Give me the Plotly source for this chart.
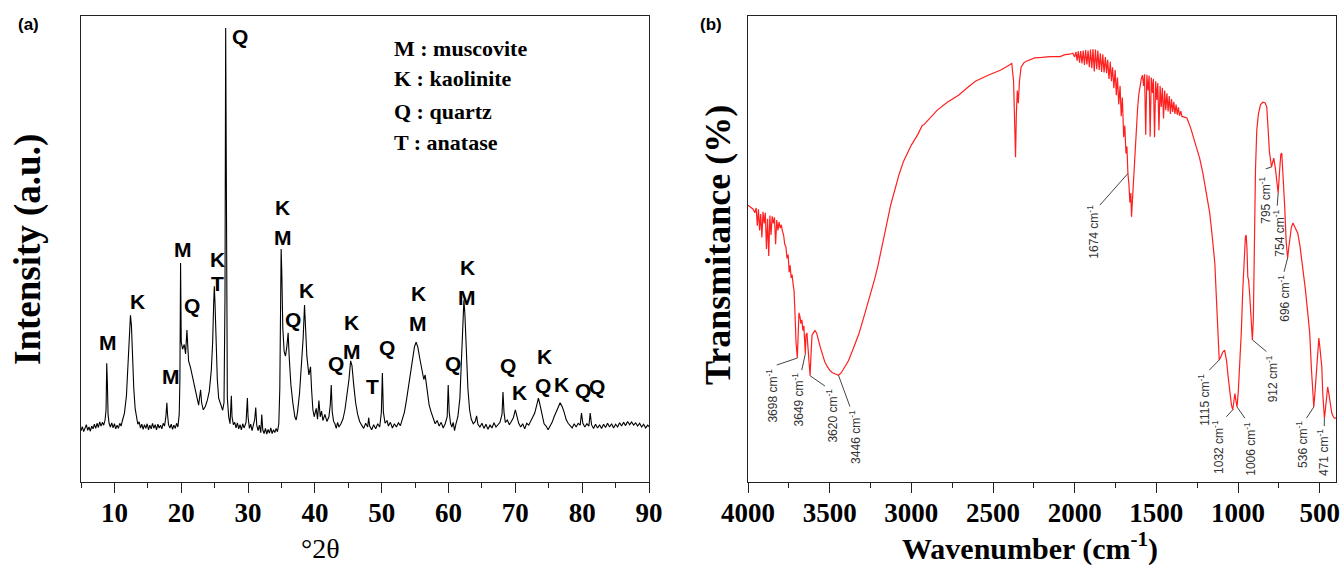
import plotly.graph_objects as go

# ---------------- (a) XRD pattern ----------------
# (2theta in degrees, intensity in arbitrary units)
xrd_scan = [
    (5.0, 11.0), (5.2, 11.9), (5.4, 10.8), (5.6, 11.6), (5.8, 12.3), (6.0, 11.1), (6.2, 11.8),
    (6.4, 10.9), (6.6, 12.0), (6.8, 11.4), (7.0, 12.4), (7.2, 11.5), (7.4, 12.6), (7.6, 11.7),
    (7.8, 12.9), (8.0, 12.0), (8.2, 12.8), (8.4, 12.2), (8.6, 13.3), (8.75, 15.5), (8.85, 25.5),
    (8.95, 21.0), (9.05, 14.5), (9.2, 12.6), (9.4, 11.8), (9.6, 12.7), (9.8, 11.6), (10.0, 12.5),
    (10.2, 11.4), (10.4, 12.2), (10.6, 11.5), (10.8, 12.6), (11.0, 12.0), (11.2, 13.2), (11.5, 14.8),
    (11.8, 18.5), (12.0, 24.0), (12.2, 31.0), (12.4, 35.8), (12.55, 33.5), (12.7, 27.0), (12.9, 20.0),
    (13.1, 15.8), (13.3, 13.6), (13.5, 12.4), (13.7, 12.9), (13.9, 11.6), (14.1, 12.4), (14.3, 11.3),
    (14.5, 12.3), (14.7, 11.5), (14.9, 12.5), (15.1, 11.2), (15.3, 12.2), (15.5, 11.4), (15.7, 12.6),
    (15.9, 11.5), (16.1, 12.3), (16.3, 11.2), (16.5, 12.4), (16.7, 11.6), (16.9, 12.2), (17.1, 11.4),
    (17.3, 12.6), (17.5, 12.0), (17.7, 14.0), (17.85, 17.0), (17.95, 14.5), (18.1, 12.3), (18.3, 11.6),
    (18.5, 12.4), (18.7, 11.3), (18.9, 12.2), (19.1, 11.5), (19.3, 12.6), (19.5, 11.8), (19.7, 14.5),
    (19.8, 22.0), (19.9, 47.0), (20.0, 30.0), (20.2, 28.5), (20.45, 29.5), (20.65, 27.5), (20.85, 32.6),
    (20.95, 29.0), (21.1, 26.0), (21.4, 24.5), (21.7, 22.5), (22.0, 20.0), (22.3, 18.5), (22.6, 16.5),
    (22.9, 19.8), (23.05, 17.0), (23.3, 15.5), (23.6, 16.2), (23.9, 17.5), (24.2, 19.5), (24.5, 24.0),
    (24.7, 30.0), (24.85, 38.0), (24.95, 42.0), (25.05, 38.5), (25.2, 30.0), (25.4, 22.0), (25.6, 18.0),
    (25.8, 17.2), (26.0, 16.0), (26.2, 15.4), (26.4, 17.0), (26.55, 40.0), (26.65, 97.4), (26.75, 45.0),
    (26.9, 18.0), (27.1, 14.0), (27.3, 12.5), (27.5, 18.5), (27.6, 14.0), (27.8, 12.3), (28.0, 12.8),
    (28.2, 11.6), (28.4, 12.7), (28.6, 11.4), (28.8, 12.3), (29.0, 11.2), (29.2, 12.5), (29.4, 11.6),
    (29.7, 12.8), (29.9, 18.0), (30.0, 14.0), (30.2, 11.5), (30.4, 12.4), (30.6, 11.0), (30.8, 12.0),
    (31.0, 13.5), (31.15, 16.0), (31.3, 12.2), (31.5, 11.0), (31.7, 12.2), (31.9, 10.6), (32.05, 14.5),
    (32.2, 11.2), (32.4, 10.4), (32.6, 11.5), (32.8, 10.3), (33.0, 11.3), (33.2, 10.5), (33.4, 11.6),
    (33.6, 10.4), (33.8, 11.2), (34.0, 10.6), (34.2, 11.5), (34.4, 10.8), (34.6, 12.5), (34.75, 20.0),
    (34.85, 35.0), (34.95, 50.0), (35.05, 45.0), (35.2, 33.0), (35.4, 28.0), (35.6, 27.0), (35.8, 29.0),
    (36.0, 32.0), (36.15, 27.0), (36.4, 21.0), (36.7, 17.0), (37.0, 14.0), (37.2, 13.3), (37.4, 15.0),
    (37.7, 19.0), (38.0, 25.0), (38.25, 31.0), (38.45, 38.0), (38.6, 33.0), (38.8, 27.0), (39.1, 23.0),
    (39.35, 24.7), (39.5, 20.0), (39.7, 15.5), (39.9, 14.0), (40.2, 15.8), (40.4, 13.5), (40.6, 17.5),
    (40.8, 14.0), (41.0, 15.2), (41.2, 13.2), (41.5, 14.5), (41.8, 13.0), (42.1, 14.0), (42.3, 16.5),
    (42.45, 20.8), (42.6, 15.0), (42.8, 13.0), (43.0, 12.5), (43.2, 11.5), (43.4, 12.8), (43.6, 11.8),
    (43.9, 12.5), (44.2, 13.5), (44.5, 15.5), (44.8, 18.5), (45.1, 22.0), (45.35, 26.0), (45.55, 25.0),
    (45.8, 21.0), (46.1, 17.0), (46.4, 14.5), (46.7, 13.0), (47.0, 12.2), (47.3, 11.5), (47.6, 12.6),
    (47.9, 11.8), (48.05, 13.8), (48.2, 12.0), (48.5, 11.2), (48.8, 12.3), (49.1, 11.4), (49.4, 12.5),
    (49.7, 11.8), (49.95, 15.0), (50.1, 23.4), (50.25, 15.0), (50.5, 12.6), (50.8, 13.2), (51.0, 12.0),
    (51.3, 12.8), (51.6, 11.6), (51.9, 12.5), (52.2, 11.8), (52.5, 12.7), (52.8, 12.1), (53.1, 13.5),
    (53.4, 15.0), (53.7, 17.5), (54.0, 20.5), (54.3, 24.0), (54.6, 27.0), (54.9, 29.0), (55.15, 30.0),
    (55.4, 29.0), (55.7, 26.5), (56.0, 24.5), (56.3, 22.0), (56.5, 23.0), (56.8, 19.0), (57.1, 16.5),
    (57.4, 15.0), (57.7, 13.5), (58.0, 12.5), (58.3, 13.2), (58.6, 12.0), (58.9, 12.8), (59.2, 11.6),
    (59.5, 12.5), (59.8, 14.0), (59.95, 20.8), (60.1, 15.0), (60.3, 12.6), (60.5, 11.8), (60.7, 12.8),
    (60.9, 11.0), (61.1, 12.4), (61.4, 14.0), (61.7, 18.0), (61.95, 27.0), (62.15, 35.0), (62.3, 39.0),
    (62.45, 36.0), (62.65, 28.0), (62.9, 20.0), (63.15, 15.5), (63.4, 13.5), (63.7, 12.5), (64.0, 13.0),
    (64.2, 14.2), (64.4, 12.4), (64.7, 11.8), (65.0, 12.6), (65.3, 11.5), (65.6, 12.4), (65.9, 11.3),
    (66.2, 12.2), (66.5, 11.6), (66.8, 12.7), (67.1, 11.8), (67.4, 12.4), (67.7, 12.8), (68.0, 14.5),
    (68.15, 19.3), (68.3, 15.0), (68.5, 12.8), (68.8, 13.3), (69.1, 12.3), (69.4, 13.0), (69.7, 13.8),
    (70.0, 15.5), (70.25, 14.0), (70.5, 12.6), (70.8, 11.8), (71.1, 12.5), (71.4, 11.4), (71.7, 12.6),
    (72.0, 12.2), (72.3, 13.0), (72.6, 13.8), (72.9, 14.8), (73.2, 16.5), (73.45, 18.0), (73.7, 16.5),
    (74.0, 14.2), (74.3, 12.5), (74.6, 12.0), (74.9, 11.2), (75.2, 12.0), (75.5, 12.8), (75.8, 14.0),
    (76.1, 15.2), (76.4, 16.0), (76.7, 17.0), (77.0, 16.2), (77.3, 15.0), (77.6, 13.4), (77.9, 12.6),
    (78.2, 12.2), (78.5, 11.6), (78.8, 12.5), (79.1, 11.8), (79.4, 12.6), (79.7, 12.2), (79.9, 14.8),
    (80.1, 12.6), (80.4, 11.8), (80.7, 12.5), (81.0, 12.0), (81.2, 14.8), (81.4, 12.3), (81.7, 11.5),
    (82.0, 12.4), (82.3, 11.6), (82.6, 12.3), (82.9, 11.5), (83.2, 12.4), (83.5, 11.7), (83.8, 12.6),
    (84.1, 11.8), (84.4, 12.5), (84.7, 11.6), (85.0, 12.4), (85.3, 11.8), (85.6, 12.7), (85.9, 12.0),
    (86.2, 12.8), (86.5, 12.1), (86.8, 13.0), (87.1, 12.3), (87.4, 12.9), (87.7, 12.2), (88.0, 12.7),
    (88.3, 12.0), (88.6, 12.6), (88.9, 11.8), (89.2, 12.4), (89.5, 11.6), (89.8, 12.2), (90.0, 11.9),
]

# Phase labels above the reflections
peak_angles = [9.1, 13.4, 18.4, 20.2, 21.6, 25.5, 25.5, 28.8, 35.2, 35.2, 36.7, 38.8,
               43.1, 45.5, 45.5, 48.6, 50.8, 55.5, 55.5, 60.6, 62.8, 62.8, 68.9, 70.6,
               74.3, 74.2, 76.9, 80.1, 82.2]
peak_label_heights = [30.0, 38.8, 22.7, 50.0, 37.8, 47.8, 42.6, 95.5, 58.8, 52.4, 34.8, 41.0,
                      25.5, 34.3, 27.9, 20.4, 28.9, 40.5, 34.0, 25.5, 46.1, 39.7, 25.1, 19.3,
                      27.0, 20.8, 21.0, 19.7, 20.4]
peak_phases = ["M", "K", "M", "M", "Q", "K", "T", "Q", "K", "M", "Q", "K",
               "Q", "K", "M", "T", "Q", "K", "M", "Q", "K", "M", "Q", "K",
               "K", "Q", "K", "Q", "Q"]

phase_key = ["M : muscovite", "K : kaolinite", "Q : quartz", "T : anatase"]

# ---------------- (b) FTIR spectrum ----------------
# (wavenumber in cm-1, transmittance in %)
ftir_scan = [
    (4000, 59.4), (3985, 59.0), (3970, 58.6), (3958, 57.8), (3950, 58.8), (3943, 55.0), (3936, 58.5),
    (3929, 54.0), (3922, 57.5), (3915, 52.5), (3908, 58.0), (3901, 55.5), (3894, 57.8), (3887, 50.0),
    (3880, 56.5), (3873, 48.5), (3866, 57.2), (3859, 53.0), (3852, 57.0), (3845, 55.5), (3838, 56.8),
    (3831, 51.0), (3824, 56.2), (3817, 54.0), (3810, 55.8), (3803, 54.5), (3796, 55.2), (3789, 53.8),
    (3782, 53.0), (3775, 51.0), (3768, 50.5), (3761, 48.0), (3754, 48.8), (3748, 45.0), (3742, 46.5),
    (3736, 43.8), (3730, 44.5), (3724, 42.5), (3718, 41.0), (3712, 36.0), (3706, 30.0), (3698, 26.6),
    (3693, 32.0), (3688, 36.3), (3682, 35.5), (3676, 34.0), (3670, 34.8), (3664, 32.5), (3658, 33.5),
    (3653, 30.5), (3649, 27.5), (3645, 31.5), (3639, 32.0), (3633, 29.0), (3627, 25.0), (3620, 22.8),
    (3614, 27.5), (3608, 31.5), (3600, 32.0), (3590, 32.5), (3580, 32.0), (3570, 30.5), (3558, 29.0),
    (3545, 27.5), (3530, 25.8), (3515, 24.8), (3500, 24.0), (3485, 23.5), (3470, 23.2), (3458, 23.0),
    (3446, 22.9), (3430, 23.4), (3415, 24.3), (3400, 25.0), (3385, 26.0), (3357, 28.5), (3321, 31.8),
    (3290, 35.5), (3256, 39.5), (3225, 43.5), (3204, 46.5), (3178, 50.5), (3150, 55.5), (3126, 59.5),
    (3100, 63.0), (3075, 66.0), (3048, 68.8), (3000, 72.3), (2960, 74.6), (2945, 75.5), (2935, 76.4),
    (2920, 76.8), (2880, 78.3), (2841, 79.8), (2780, 81.5), (2711, 83.0), (2650, 84.8), (2608, 86.0),
    (2530, 87.3), (2452, 88.4), (2400, 89.5), (2385, 89.8), (2374, 86.0), (2367, 76.0), (2362, 69.7),
    (2357, 79.0), (2351, 84.0), (2345, 81.3), (2338, 86.0), (2328, 89.0), (2310, 90.0), (2296, 90.3),
    (2245, 91.0), (2200, 91.1), (2150, 91.3), (2089, 91.3), (2060, 91.7), (2030, 91.8), (2011, 92.0),
    (2000, 91.2), (1992, 92.3), (1985, 90.4), (1978, 92.4), (1970, 90.0), (1963, 92.5), (1955, 89.8),
    (1948, 92.6), (1940, 89.5), (1933, 92.7), (1925, 89.6), (1918, 92.6), (1910, 89.0), (1903, 92.8),
    (1895, 88.8), (1888, 92.9), (1880, 88.1), (1873, 92.8), (1865, 88.6), (1858, 92.6), (1850, 88.4),
    (1843, 92.0), (1835, 88.0), (1828, 91.8), (1820, 87.9), (1812, 91.2), (1805, 87.7), (1798, 90.6),
    (1790, 86.5), (1782, 90.2), (1775, 86.0), (1768, 89.0), (1760, 84.5), (1752, 88.4), (1745, 83.0),
    (1738, 86.8), (1730, 81.0), (1722, 85.0), (1715, 78.5), (1708, 82.5), (1700, 74.0), (1693, 76.5),
    (1686, 70.5), (1680, 72.0), (1674, 66.2), (1668, 64.0), (1662, 60.0), (1656, 62.0), (1652, 56.9),
    (1646, 61.0), (1640, 64.5), (1634, 67.0), (1628, 72.0), (1622, 76.2), (1615, 80.0), (1608, 83.0),
    (1600, 85.2), (1592, 86.5), (1585, 87.3), (1578, 85.0), (1572, 87.5), (1565, 74.5), (1558, 87.4),
    (1551, 84.0), (1544, 87.2), (1538, 74.1), (1531, 86.8), (1524, 83.5), (1518, 86.5), (1511, 74.0),
    (1504, 86.0), (1497, 82.0), (1491, 85.6), (1484, 75.5), (1477, 85.0), (1470, 80.5), (1463, 84.6),
    (1456, 78.0), (1449, 84.0), (1442, 79.8), (1435, 83.4), (1428, 79.5), (1421, 82.8), (1414, 79.0),
    (1407, 82.2), (1400, 79.4), (1393, 81.6), (1386, 79.0), (1379, 81.0), (1372, 78.8), (1365, 80.4),
    (1358, 78.6), (1350, 79.6), (1343, 78.4), (1337, 78.4), (1313, 78.1), (1290, 76.0), (1270, 73.8),
    (1252, 71.9), (1235, 69.5), (1215, 66.3), (1195, 62.0), (1173, 57.7), (1160, 53.5), (1150, 50.0),
    (1142, 47.0), (1133, 40.0), (1124, 32.6), (1115, 26.2), (1105, 26.8), (1095, 27.8), (1082, 28.3),
    (1070, 26.0), (1060, 22.5), (1050, 19.1), (1040, 16.5), (1032, 15.5), (1025, 17.0), (1019, 19.0),
    (1013, 17.5), (1006, 16.1), (998, 19.5), (989, 24.7), (980, 32.0), (971, 41.0), (962, 48.5),
    (955, 52.5), (950, 53.0), (945, 50.0), (940, 44.0), (935, 43.3), (928, 40.0), (920, 33.5),
    (912, 30.5), (906, 35.0), (900, 50.0), (893, 67.0), (885, 75.5), (875, 79.0), (862, 81.0),
    (848, 81.5), (835, 81.4), (824, 80.5), (816, 76.0), (808, 71.0), (795, 67.6), (788, 68.8),
    (781, 69.5), (772, 67.5), (762, 64.0), (754, 62.0), (746, 66.5), (738, 70.3), (732, 70.6),
    (726, 67.0), (720, 62.0), (714, 59.0), (705, 51.5), (696, 48.1), (690, 50.0), (683, 51.9),
    (674, 54.5), (664, 55.6), (655, 55.0), (645, 54.0), (634, 53.4), (620, 50.5), (603, 46.1),
    (588, 41.5), (573, 36.3), (561, 32.0), (550, 24.0), (542, 18.0), (536, 16.1), (528, 19.5),
    (518, 24.7), (511, 29.0), (505, 30.9), (499, 29.0), (492, 26.5), (487, 24.7), (481, 19.0),
    (475, 14.5), (471, 13.7), (465, 15.5), (458, 19.0), (451, 20.4), (444, 19.0), (436, 16.5),
    (426, 14.8), (415, 13.9), (408, 13.7), (400, 13.7),
]

# Assigned bands and the transmittance of the curve at each band
band_wavenumbers = [3698, 3649, 3620, 3446, 1674, 1115, 1032, 1006, 912, 795, 754, 696, 536, 471]
band_transmittance = [26.6, 27.5, 22.8, 22.9, 66.2, 26.2, 15.5, 16.1, 30.5, 67.6, 62.0, 48.1, 16.1, 13.7]

# Where each band's leader line ends and where its rotated caption sits (x, top of text)
band_leader_end = [(3824, 25.1), (3671, 24.0), (3529, 20.6), (3376, 16.2), (1846, 59.4),
                   (1176, 24.0), (1071, 14.0), (958, 13.7), (826, 28.0), (830, 67.2),
                   (760, 59.3), (718, 45.1), (581, 13.7), (472, 12.0)]
band_caption_pos = [(3855, 24.7), (3692, 24.0), (3488, 20.4), (3345, 15.9), (1889, 59.9),
                    (1213, 23.7), (1124, 13.7), (928, 13.3), (795, 27.6), (836, 66.0),
                    (748, 58.8), (718, 44.8), (612, 13.5), (480, 11.9)]

# ---------------- figure ----------------
SERIF = "Liberation Serif"
SANS = "Liberation Sans"

two_theta = [p[0] for p in xrd_scan]
intensity = [p[1] for p in xrd_scan]
wavenumber = [p[0] for p in ftir_scan]
transmittance = [p[1] for p in ftir_scan]

fig = go.Figure()
fig.add_trace(go.Scatter(x=two_theta, y=intensity, mode="lines",
                         line=dict(color="black", width=1.1),
                         xaxis="x", yaxis="y", hoverinfo="skip"))
fig.add_trace(go.Scatter(x=wavenumber, y=transmittance, mode="lines",
                         line=dict(color="#ff1f1f", width=1.2),
                         xaxis="x2", yaxis="y2", hoverinfo="skip"))

for wn, tr, (ex, ey) in zip(band_wavenumbers, band_transmittance, band_leader_end):
    fig.add_trace(go.Scatter(x=[wn, ex], y=[tr, ey], mode="lines",
                             line=dict(color="#444444", width=1.0),
                             xaxis="x2", yaxis="y2", hoverinfo="skip"))

annotations = []

for ang, h, ph in zip(peak_angles, peak_label_heights, peak_phases):
    annotations.append(dict(x=ang, y=h, xref="x", yref="y", text=ph, showarrow=False,
                            xanchor="center", yanchor="middle",
                            font=dict(family=SANS, size=21, color="black", weight="bold")))

key_heights = [93.0, 86.5, 79.6, 72.9]
for txt, h in zip(phase_key, key_heights):
    annotations.append(dict(x=51.6, y=h, xref="x", yref="y", text=txt, showarrow=False,
                            xanchor="left", yanchor="middle",
                            font=dict(family=SERIF, size=22, color="black", weight="bold")))

for wn, (cx, cy) in zip(band_wavenumbers, band_caption_pos):
    annotations.append(dict(x=cx, y=cy, xref="x2", yref="y2",
                            text=f"{wn} cm<sup>-1</sup>", showarrow=False, textangle=-90,
                            xanchor="center", yanchor="top",
                            font=dict(family=SANS, size=12, color="#333333")))

# axis titles and panel letters
annotations += [
    dict(x=28 / 1343, y=1 - 250 / 565, xref="paper", yref="paper", text="Intensity (a.u.)",
         textangle=-90, showarrow=False, xanchor="center", yanchor="middle",
         font=dict(family=SERIF, size=37, color="black", weight="bold")),
    dict(x=320 / 1343, y=1 - 548 / 565, xref="paper", yref="paper", text="°2θ",
         showarrow=False, xanchor="center", yanchor="middle",
         font=dict(family=SERIF, size=28, color="black")),
    dict(x=718 / 1343, y=1 - 245 / 565, xref="paper", yref="paper", text="Transmitance (%)",
         textangle=-90, showarrow=False, xanchor="center", yanchor="middle",
         font=dict(family=SERIF, size=36, color="black", weight="bold")),
    dict(x=1030 / 1343, y=1 - 546 / 565, xref="paper", yref="paper",
         text="Wavenumber (cm<sup>-1</sup>)", showarrow=False, xanchor="center", yanchor="middle",
         font=dict(family=SERIF, size=30, color="black", weight="bold")),
    dict(x=28 / 1343, y=1 - 25 / 565, xref="paper", yref="paper", text="(a)",
         showarrow=False, xanchor="center", yanchor="middle",
         font=dict(family=SANS, size=17, color="black", weight="bold")),
    dict(x=711 / 1343, y=1 - 25 / 565, xref="paper", yref="paper", text="(b)",
         showarrow=False, xanchor="center", yanchor="middle",
         font=dict(family=SANS, size=17, color="black", weight="bold")),
]

tick_font = dict(family=SERIF, size=27, color="black", weight="bold")
frame = dict(showline=True, linecolor="#222222", linewidth=1.3, mirror=True,
             showgrid=False, zeroline=False, automargin=False)
y_dom = [1 - 482 / 565, 1 - 16 / 565]

fig.update_layout(
    width=1343, height=565,
    margin=dict(l=0, r=0, t=0, b=0, autoexpand=False),
    paper_bgcolor="white", plot_bgcolor="white",
    showlegend=False,
    xaxis=dict(domain=[81 / 1343, 649 / 1343], range=[5, 90], tick0=0, dtick=10,
               ticks="outside", ticklen=10, tickwidth=1.3, tickcolor="#222222",
               tickfont=tick_font, ticklabelstandoff=-4, anchor="y",
               minor=dict(tick0=0, dtick=5, ticks="outside", ticklen=5,
                          tickwidth=1.3, tickcolor="#222222"),
               **frame),
    yaxis=dict(domain=y_dom, range=[0, 100], showticklabels=False, ticks="",
               anchor="x", **frame),
    xaxis2=dict(domain=[748 / 1343, 1336 / 1343], range=[4000, 400], tick0=0, dtick=500,
                ticks="outside", ticklen=10, tickwidth=1.3, tickcolor="#222222",
                tickfont=tick_font, ticklabelstandoff=-4, anchor="y2",
                minor=dict(tick0=0, dtick=250, ticks="outside", ticklen=5,
                           tickwidth=1.3, tickcolor="#222222"),
                **frame),
    yaxis2=dict(domain=y_dom, range=[0, 100], showticklabels=False, ticks="",
                anchor="x2", **frame),
    annotations=annotations,
)

fig.write_html("out.html")
